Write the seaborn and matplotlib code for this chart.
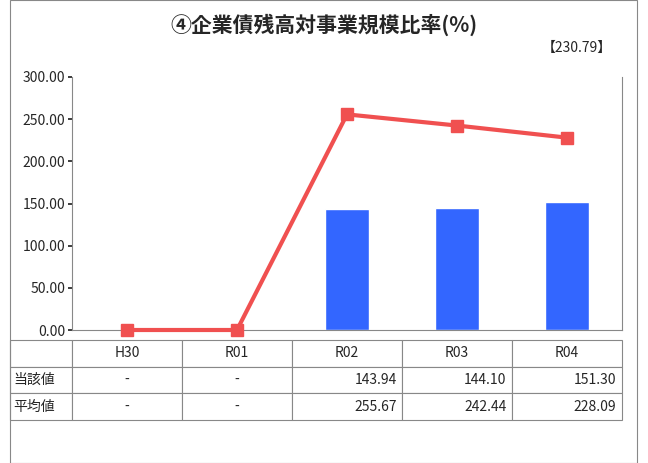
import matplotlib
matplotlib.use("Agg")
import matplotlib.pyplot as plt
import seaborn as sns
import pandas as pd
from matplotlib.patches import Rectangle

sns.set_theme(style="white")
plt.rcParams['font.family'] = ['Noto Sans CJK JP', 'DejaVu Sans']

categories = ["H30", "R01", "R02", "R03", "R04"]
bar_values = [None, None, 143.94, 144.10, 151.30]
line_values = [0.0, 0.0, 255.67, 242.44, 228.09]
bar_labels = ["-", "-", "143.94", "144.10", "151.30"]
line_labels = ["-", "-", "255.67", "242.44", "228.09"]
row_names = ["当該値", "平均値"]
title = "④企業債残高対事業規模比率(%)"
note = "【230.79】"

fig = plt.figure(figsize=(6.48, 4.63), dpi=100)
ax = fig.add_axes([72/648, 1-330/463, 550/648, 253/463])

df = pd.DataFrame({"cat": categories, "bar": [v if v is not None else 0 for v in bar_values], "line": line_values})
sns.barplot(data=df, x="cat", y="bar", color="#3366FF", saturation=1, width=0.4, ax=ax)
ax.plot(range(len(categories)), line_values, color="#F05050", lw=3, marker="s", ms=8, zorder=5, clip_on=False)

ax.set_ylim(0, 300)
ax.set_xlim(-0.5, 4.5)
ax.set_yticks(range(0, 301, 50))
ax.set_yticklabels([f"{v:.2f}" for v in range(0, 301, 50)], fontsize=10)
ax.set_xticks([])
ax.set_xlabel("")
ax.set_ylabel("")
ax.spines["top"].set_visible(False)
for s in ["left", "right", "bottom"]:
    ax.spines[s].set_color("#888888")
    ax.spines[s].set_linewidth(0.8)
ax.tick_params(axis="y", length=3, left=True, pad=2)

cell_text = [[""] + categories, [row_names[0]] + bar_labels, [row_names[1]] + line_labels]
tbl = ax.table(cellText=cell_text, cellLoc="center",
               colWidths=[62/612] + [110/612]*5,
               bbox=[(10-72)/550, (330-420)/253, 612/550, 80/253])
tbl.auto_set_font_size(False)
tbl.set_fontsize(10)
for (r, c), cell in tbl.get_celld().items():
    cell.set_edgecolor("#888888")
    cell.set_linewidth(0.8)
    if c == 0:
        cell.set_text_props(ha="left")
        cell.PAD = 0.05
    elif c > 0 and r > 0 and cell.get_text().get_text() not in ("-",):
        cell.set_text_props(ha="right")
        cell.PAD = 0.05

fig.text(0.5, 1-25/463, title, ha="center", va="center", fontsize=15, fontweight="bold")
fig.text(612/648, 1-48/463, note, ha="right", va="center", fontsize=10)
fig.patches.append(Rectangle((10/648, 0), 627/648, 0.999, transform=fig.transFigure,
                             fill=False, edgecolor="#888888", lw=0.8))
fig.savefig("out.png", dpi=100)
